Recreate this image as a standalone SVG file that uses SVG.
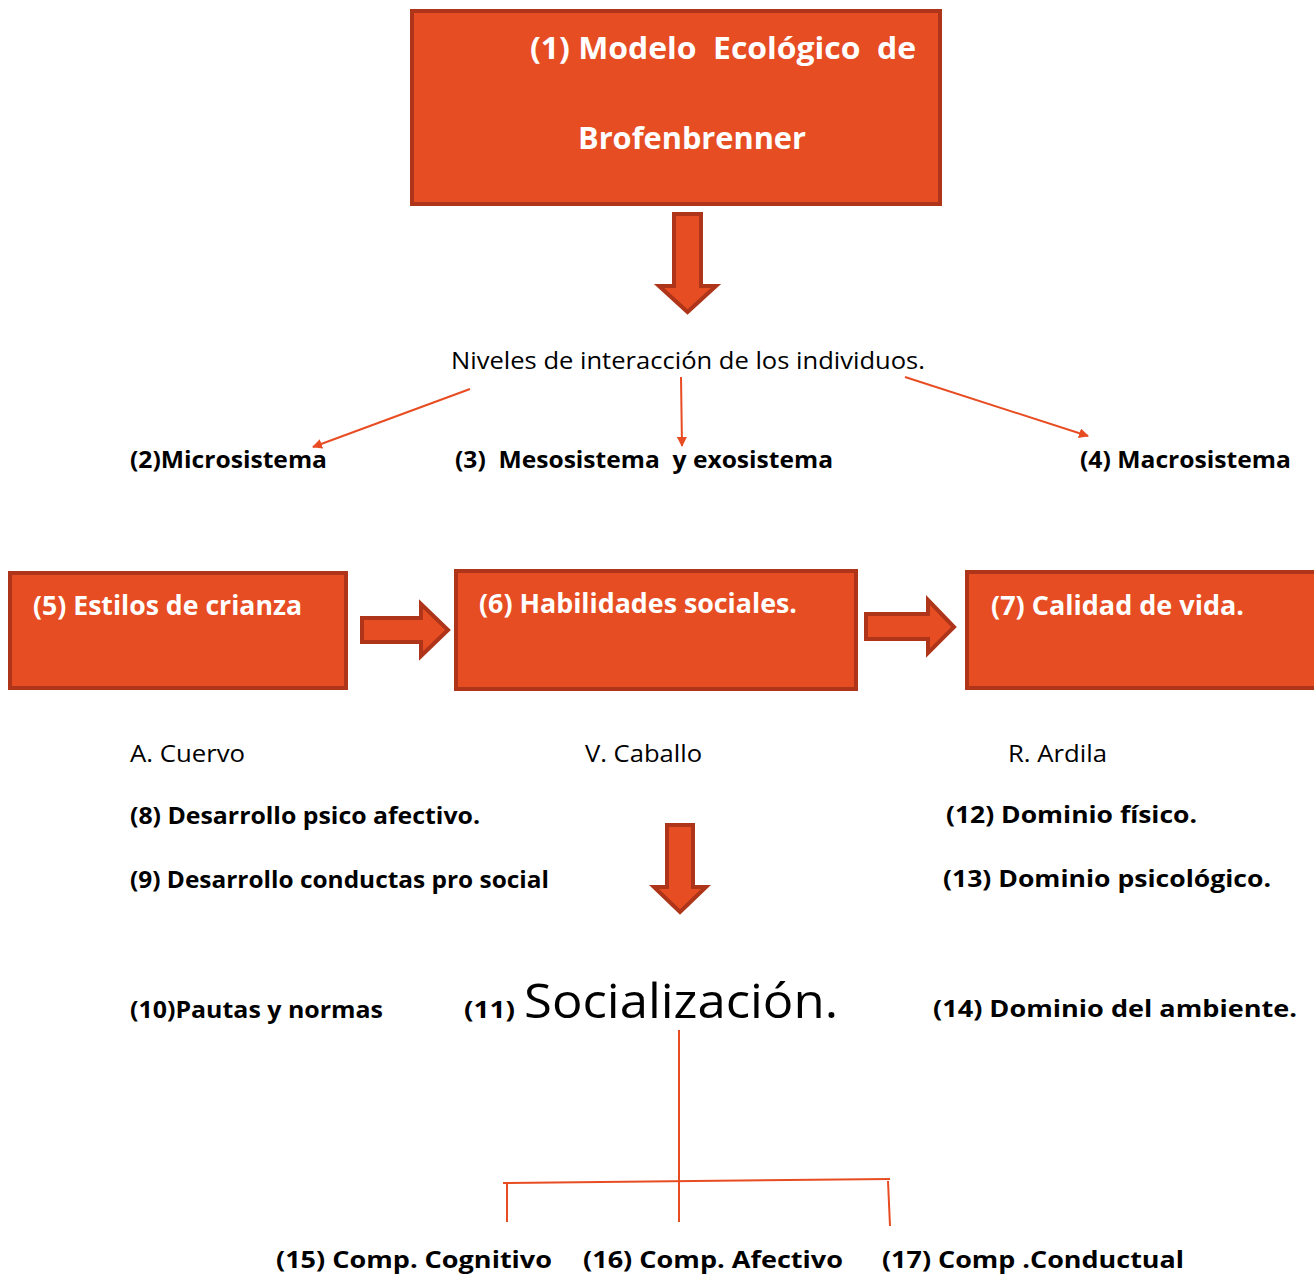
<svg xmlns="http://www.w3.org/2000/svg" width="1314" height="1276" viewBox="0 0 1314 1276">
<style>
.box{fill:#E64D23;stroke:#AE3519;stroke-width:4}
.blk{fill:#E64D23;stroke:#AE3519;stroke-width:4;stroke-linejoin:miter}
.wt{font-family:"Open Sans","Liberation Sans",sans-serif;font-weight:bold;fill:#fff}
.bt{font-family:"Open Sans","Liberation Sans",sans-serif;font-weight:bold;fill:#000;font-size:23px}
.rt{font-family:"Open Sans","Liberation Sans",sans-serif;fill:#000;font-size:23px}
.big{font-family:"Open Sans","Liberation Sans",sans-serif;fill:#000;font-size:48px}
.ln{stroke:#E84C22;stroke-width:2;fill:none}
</style>
<defs>
<marker id="ah" markerWidth="10" markerHeight="10" refX="9" refY="5" orient="auto" markerUnits="userSpaceOnUse" viewBox="0 0 10 10">
<path d="M0,0 L10,5 L0,10 z" fill="#E84C22"/>
</marker>
</defs>
<g id="n1">
<rect class="box" x="412" y="11" width="528" height="193"/>
<text class="wt" x="530" y="59" font-size="30" textLength="386" lengthAdjust="spacingAndGlyphs" xml:space="preserve">(1) Modelo  Ecológico  de</text>
<text class="wt" x="578" y="149" font-size="30" textLength="228" lengthAdjust="spacingAndGlyphs">Brofenbrenner</text>
</g>
<g id="a1"><path class="blk" d="M674,214 L701,214 L701,286 L716,286 L687.5,312 L659,286 L674,286 Z"/></g>
<g id="niveles"><text class="rt" x="451" y="369" textLength="474" lengthAdjust="spacingAndGlyphs">Niveles de interacción de los individuos.</text></g>
<g id="n2"><text class="bt" x="130" y="468" textLength="197" lengthAdjust="spacingAndGlyphs">(2)Microsistema</text></g>
<g id="n3"><text class="bt" x="455" y="468" textLength="378" lengthAdjust="spacingAndGlyphs" xml:space="preserve">(3)  Mesosistema  y exosistema</text></g>
<g id="n4"><text class="bt" x="1080" y="468" textLength="211" lengthAdjust="spacingAndGlyphs">(4) Macrosistema</text></g>
<g id="n5">
<rect class="box" x="10" y="573" width="336" height="115"/>
<text class="wt" x="33" y="615" font-size="26" textLength="269" lengthAdjust="spacingAndGlyphs">(5) Estilos de crianza</text>
</g>
<g id="a2"><path class="blk" d="M362,618 L421,618 L421,604 L448,630 L421,656 L421,642 L362,642 Z"/></g>
<g id="n6">
<rect class="box" x="456" y="571" width="400" height="118"/>
<text class="wt" x="479" y="613" font-size="26" textLength="318" lengthAdjust="spacingAndGlyphs">(6) Habilidades sociales.</text>
</g>
<g id="a3"><path class="blk" d="M866,614 L928,614 L928,600 L954,627 L928,653 L928,639 L866,639 Z"/></g>
<g id="n7">
<rect class="box" x="967" y="572" width="352" height="116"/>
<text class="wt" x="991" y="615" font-size="26" textLength="253" lengthAdjust="spacingAndGlyphs">(7) Calidad de vida.</text>
</g>
<g id="authors">
<text class="rt" x="130" y="762" textLength="115" lengthAdjust="spacingAndGlyphs">A. Cuervo</text>
<text class="rt" x="585" y="762" textLength="117" lengthAdjust="spacingAndGlyphs">V. Caballo</text>
<text class="rt" x="1008" y="762" textLength="99" lengthAdjust="spacingAndGlyphs">R. Ardila</text>
</g>
<g id="n8"><text class="bt" x="130" y="824" textLength="350" lengthAdjust="spacingAndGlyphs">(8) Desarrollo psico afectivo.</text></g>
<g id="n9"><text class="bt" x="130" y="888" textLength="419" lengthAdjust="spacingAndGlyphs">(9) Desarrollo conductas pro social</text></g>
<g id="n12"><text class="bt" x="946" y="823" textLength="251" lengthAdjust="spacingAndGlyphs">(12) Dominio físico.</text></g>
<g id="n13"><text class="bt" x="943" y="887" textLength="328" lengthAdjust="spacingAndGlyphs">(13) Dominio psicológico.</text></g>
<g id="a4"><path class="blk" d="M667,825 L693,825 L693,887 L706,887 L680,912 L654,887 L667,887 Z"/></g>
<g id="n10"><text class="bt" x="130" y="1018" textLength="253" lengthAdjust="spacingAndGlyphs">(10)Pautas y normas</text></g>
<g id="n11">
<text class="bt" x="464" y="1018" textLength="51" lengthAdjust="spacingAndGlyphs">(11)</text>
<text class="big" x="524" y="1018" textLength="314" lengthAdjust="spacingAndGlyphs">Socialización.</text>
</g>
<g id="n14"><text class="bt" x="933" y="1017" textLength="364" lengthAdjust="spacingAndGlyphs">(14) Dominio del ambiente.</text></g>
<g id="n15"><text class="bt" x="276" y="1268" textLength="276" lengthAdjust="spacingAndGlyphs">(15) Comp. Cognitivo</text></g>
<g id="n16"><text class="bt" x="583" y="1268" textLength="260" lengthAdjust="spacingAndGlyphs">(16) Comp. Afectivo</text></g>
<g id="n17"><text class="bt" x="882" y="1268" textLength="302" lengthAdjust="spacingAndGlyphs">(17) Comp .Conductual</text></g>
<g id="connectors">
<line class="ln" x1="470" y1="389" x2="313" y2="447" marker-end="url(#ah)"/>
<line class="ln" x1="681" y1="377" x2="682" y2="446" marker-end="url(#ah)"/>
<line class="ln" x1="905" y1="377" x2="1088" y2="436" marker-end="url(#ah)"/>
<line class="ln" x1="679" y1="1030" x2="679" y2="1222"/>
<line class="ln" x1="503" y1="1183" x2="890" y2="1179"/>
<line class="ln" x1="507" y1="1183" x2="507" y2="1222"/>
<line class="ln" x1="888" y1="1181" x2="890" y2="1226"/>
</g>
</svg>
